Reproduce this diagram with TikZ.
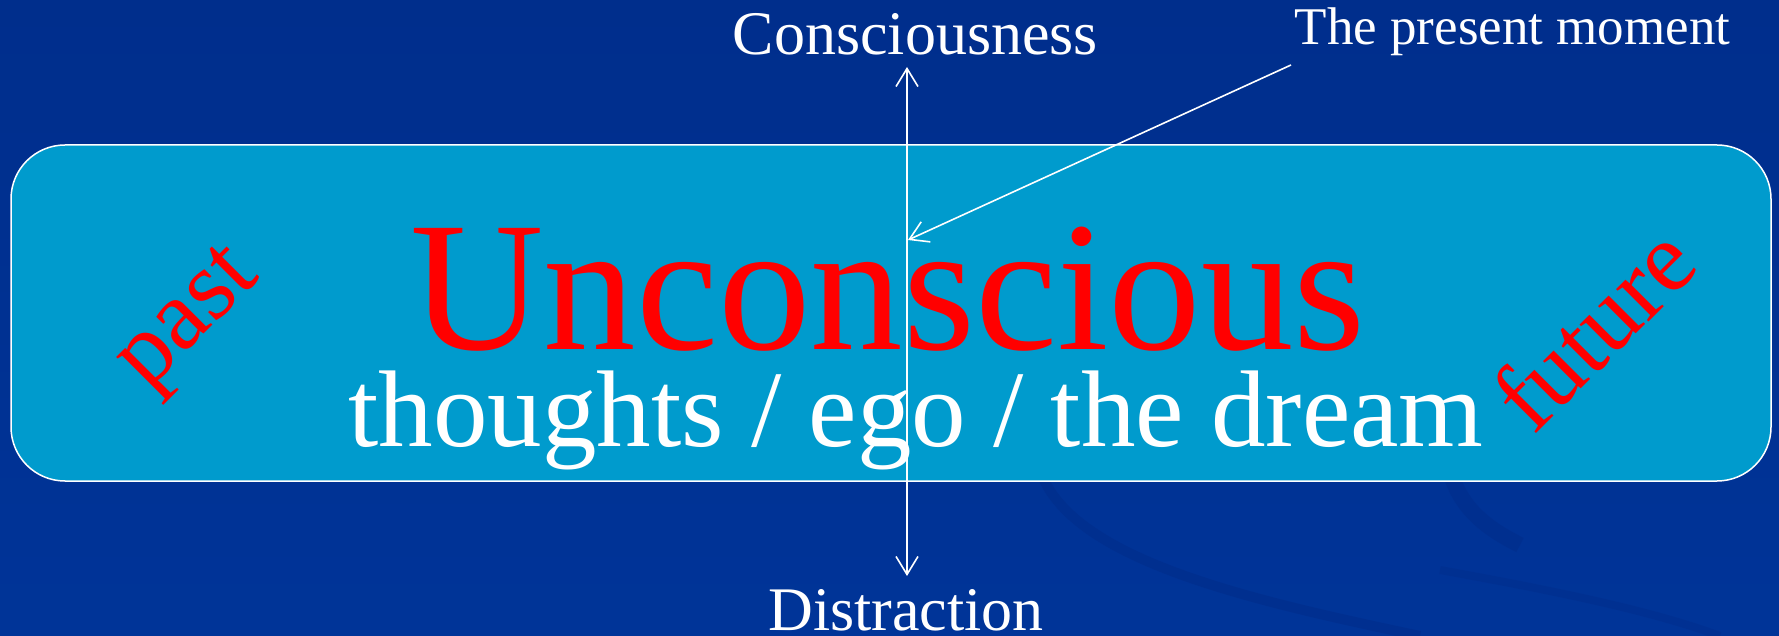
\documentclass[tikz,border=0pt]{standalone}
\usepackage{fontspec}
\setmainfont{Liberation Serif}
\usetikzlibrary{arrows.meta}
\definecolor{bgblue}{RGB}{0,52,152}
\definecolor{bgtop}{RGB}{0,46,140}
\definecolor{boxblue}{RGB}{0,155,205}
\definecolor{swoosh}{RGB}{0,40,130}
\definecolor{txtred}{RGB}{255,0,0}
\begin{document}
\begin{tikzpicture}[x={(0.5pt,0)}, y={(0,-0.5pt)},
  lbl/.style={text=white, inner sep=0pt, anchor=base},
  slant/.style={text=txtred, inner sep=0pt, rotate=45, font=\fontsize{50}{55}\selectfont},
  conn/.style={draw=white, line width=0.8pt, -{Straight Barb[length=9pt,width=11pt]}},
]
\fill[top color=bgtop, bottom color=bgblue] (0,0) rectangle (1779,636);
\useasboundingbox (0,0) rectangle (1779,636);
% faint background swooshes
\draw[swoosh, line width=5pt, opacity=0.35] (1040,470) .. controls (1070,560) and (1250,600) .. (1420,636);
\draw[swoosh, line width=8pt, opacity=0.3] (1450,470) .. controls (1460,510) and (1490,530) .. (1520,545);
\draw[swoosh, line width=4pt, opacity=0.25] (1440,570) .. controls (1550,590) and (1650,610) .. (1720,636);
% main box
\node[draw=white, line width=0.75pt, fill=boxblue, rounded corners=27pt,
      minimum width=880pt, minimum height=168pt, inner sep=0pt] (box) at (891,313) {};
% texts
\node[lbl, text=txtred, font=\fontsize{92.5}{100}\selectfont] (uncon) at (888,350) {Unconscious};
\node[lbl, font=\fontsize{54.5}{60}\selectfont] (thoughts) at (916,446) {thoughts / ego / the dream};
\node[lbl, font=\fontsize{31}{36}\selectfont] (consc) at (915.5,55) {Consciousness};
\node[lbl, font=\fontsize{26.5}{30}\selectfont] (present) at (1512.5,45) {The present moment};
\node[lbl, font=\fontsize{31}{36}\selectfont] (distr) at (906,630) {Distraction};
\node[slant] (past) at (192,322) {past};
\node[slant] (future) at (1593,328) {future};
% connectors
\coordinate (vtop) at (907,67);
\coordinate (vbot) at (907,576);
\coordinate (pmstart) at (1291,65);
\coordinate (pmend) at (908,240);
\draw[conn, {Straight Barb[length=9pt,width=11pt]}-{Straight Barb[length=9pt,width=11pt]}] (vbot) -- (vtop);
\draw[conn] (pmstart) -- (pmend);
\end{tikzpicture}
\end{document}
